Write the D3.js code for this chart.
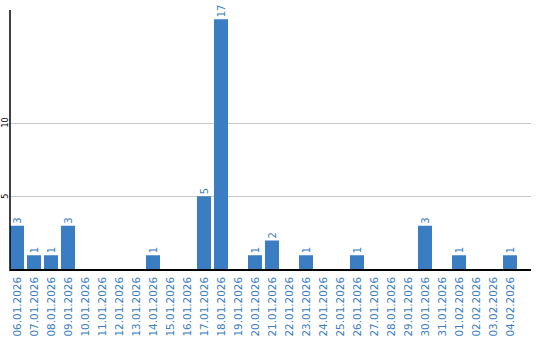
<!DOCTYPE html>
<html><head><meta charset="utf-8">
<script src="https://cdn.jsdelivr.net/npm/d3@7/dist/d3.min.js"></script>
<style>body{margin:0;background:#fff}svg{display:block}</style>
</head><body><svg id="c" width="540" height="340"></svg>
<script>
const categories = ["06.01.2026","07.01.2026","08.01.2026","09.01.2026","10.01.2026","11.01.2026","12.01.2026","13.01.2026","14.01.2026","15.01.2026","16.01.2026","17.01.2026","18.01.2026","19.01.2026","20.01.2026","21.01.2026","22.01.2026","23.01.2026","24.01.2026","25.01.2026","26.01.2026","27.01.2026","28.01.2026","29.01.2026","30.01.2026","31.01.2026","01.02.2026","02.02.2026","03.02.2026","04.02.2026"];
const values = [3,1,1,3,0,0,0,0,1,0,0,5,17,0,1,2,0,1,0,0,1,0,0,0,3,0,1,0,0,1];
const yTicks = [5,10];

(function(){
const svg = d3.select("#c");
const pl = 10, pr = 531, pt = 10, base = 270;
const blue = "#3a7dc3";
const pi = 3/17;
const x = d3.scaleBand().domain(categories).range([pl, pl + 17*categories.length])
  .paddingInner(pi).paddingOuter(pi/2).align(0);
const y = d3.scaleLinear().domain([0, (base - pt)/14.75]).range([base, pt]);

svg.append("g").selectAll("line").data(yTicks).join("line")
  .attr("x1", pl).attr("x2", pr)
  .attr("y1", d => Math.round(y(d)) + 0.5).attr("y2", d => Math.round(y(d)) + 0.5)
  .attr("stroke", "#c8c8c8").attr("stroke-width", 1);

svg.append("g").selectAll("text").data(yTicks).join("text")
  .attr("transform", d => `translate(7.5,${y(d)}) rotate(-90)`)
  .attr("text-anchor", "middle")
  .attr("font-family", "DejaVu Sans, Verdana, sans-serif")
  .attr("font-size", 8).attr("fill", "#000")
  .text(d => d);

svg.append("g").selectAll("rect").data(values).join("rect")
  .attr("x", (d, i) => x(categories[i]))
  .attr("width", x.bandwidth())
  .attr("y", d => y(d))
  .attr("height", d => base - y(d))
  .attr("fill", blue);

svg.append("g").selectAll("text").data(values.map((v, i) => ({v, c: categories[i]})).filter(d => d.v > 0)).join("text")
  .attr("transform", d => `translate(${x(d.c) + x.bandwidth()/2},${y(d.v) - 2}) rotate(-90)`)
  .attr("dy", "0.35em")
  .attr("text-anchor", "start")
  .attr("font-family", "DejaVu Sans, Verdana, sans-serif")
  .attr("font-size", 10).attr("fill", blue)
  .text(d => d.v);

svg.append("g").selectAll("text").data(categories).join("text")
  .attr("transform", d => `translate(${x(d) + x.bandwidth()/2 + 0.5},277) rotate(-90)`)
  .attr("dy", "0.35em")
  .attr("text-anchor", "end")
  .attr("font-family", "DejaVu Sans, Verdana, sans-serif")
  .attr("font-size", 10.4).attr("fill", blue)
  .text(d => d);

svg.append("line").attr("x1", pl).attr("x2", pl).attr("y1", pt).attr("y2", base + 1)
  .attr("stroke", "#000").attr("stroke-width", 1.5);
svg.append("line").attr("x1", pl).attr("x2", pr).attr("y1", base).attr("y2", base)
  .attr("stroke", "#000").attr("stroke-width", 2);
})();
</script></body></html>
